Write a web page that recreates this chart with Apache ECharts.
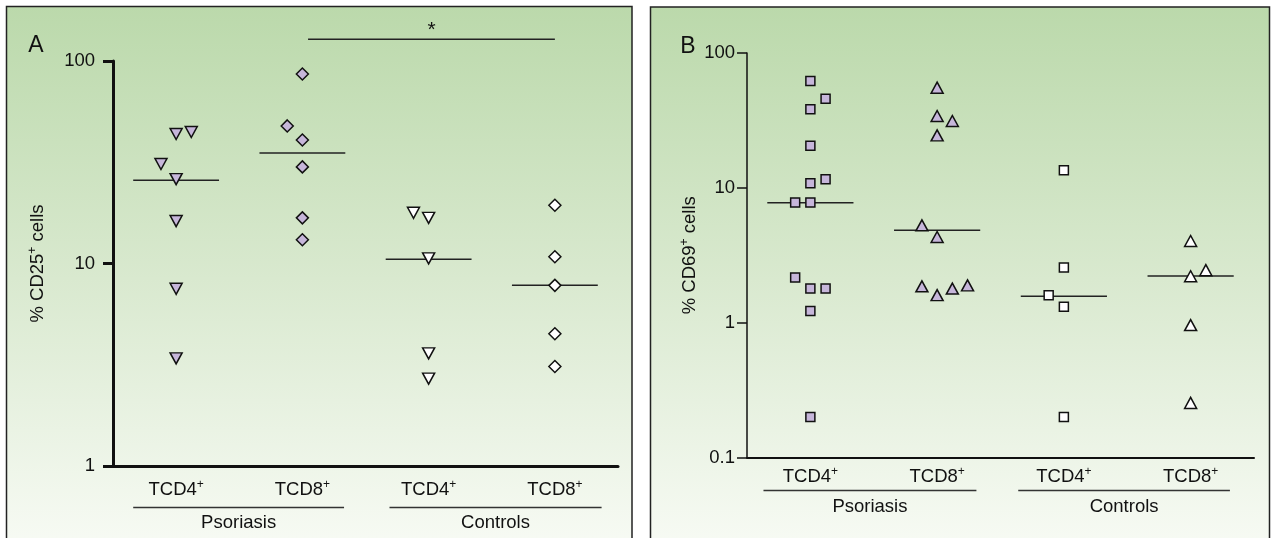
<!DOCTYPE html>
<html>
<head>
<meta charset="utf-8">
<script src="https://cdn.jsdelivr.net/npm/echarts@6/dist/echarts.min.js"></script>
<style>
  html, body { margin: 0; padding: 0; background: #fff; }
  #chart { width: 1276px; height: 538px; }
</style>
</head>
<body>
<div id="chart"></div>
<script>
// categories and groups
const categories = ['TCD4', 'TCD8', 'TCD4', 'TCD8']
const groupNames = ['Psoriasis', 'Controls']
const groupSpans = [[0.66, 2.33], [2.69, 4.37]]
const groupSpansB = [[0.63, 2.31], [2.64, 4.31]]

// panel A: % CD25+ cells
const cd25PsoCd4 = [43.6, 44.6, 31.0, 26.1, 16.2, 7.5, 3.4]
const cd25PsoCd4Jit = [0, 0.12, -0.12, 0, 0, 0, 0]
const cd25PsoCd8 = [86.3, 47.8, 40.7, 30.0, 16.8, 13.1]
const cd25PsoCd8Jit = [0, -0.12, 0, 0, 0, 0]
const cd25ConCd4 = [17.8, 16.8, 10.6, 3.6, 2.7]
const cd25ConCd4Jit = [-0.12, 0, 0, 0, 0]
const cd25ConCd8 = [19.4, 10.8, 7.8, 4.5, 3.1]
const cd25ConCd8Jit = [0, 0, 0, 0, 0]
const cd25Medians = [25.8, 35.1, 10.5, 7.8]
const cd25Signif = [2.045, 4.0, 128]

// panel B: % CD69+ cells
const cd69PsoCd4 = [61.9, 45.8, 38.2, 20.5, 10.8, 11.6, 7.77, 7.77, 2.16, 1.79, 1.79, 1.22, 0.2]
const cd69PsoCd4Jit = [0, 0.12, 0, 0, 0, 0.12, -0.12, 0, -0.12, 0, 0.12, 0, 0]
const cd69PsoCd8 = [55.3, 34.1, 31.3, 24.5, 5.27, 4.32, 1.86, 1.6, 1.79, 1.89]
const cd69PsoCd8Jit = [0, 0, 0.12, 0, -0.12, 0, -0.12, 0, 0.12, 0.24]
const cd69ConCd4 = [13.5, 2.56, 1.6, 1.31, 0.2]
const cd69ConCd4Jit = [0, 0, -0.12, 0, 0]
const cd69ConCd8 = [4.03, 2.45, 2.21, 0.96, 0.254]
const cd69ConCd8Jit = [0, 0.12, 0, 0, 0]
const cd69Medians = [7.74, 4.84, 1.57, 2.22]

const FONT = 'Liberation Sans, Arial, sans-serif'
const LILAC = '#c6b6da'
const INK = '#111'
const FS = 18.5

const chart = echarts.init(document.getElementById('chart'))

const supRich = {
  n: { fontSize: FS, lineHeight: 22, color: INK, fontFamily: FONT },
  s: { fontSize: 12, lineHeight: 12, verticalAlign: 'top', color: INK, fontFamily: FONT }
}

const panelBg = {
  type: 'linear', x: 0, y: 0, x2: 0, y2: 1,
  colorStops: [
    { offset: 0, color: '#bbd9ab' },
    { offset: 0.5, color: '#d9e9cf' },
    { offset: 1, color: '#f8fbf5' }
  ]
}

const catAxis = (gridIndex, width, margin) => ({
  type: 'category',
  gridIndex: gridIndex,
  data: categories,
  boundaryGap: true,
  axisLine: { lineStyle: { color: INK, width: width } },
  axisTick: { show: false },
  axisLabel: {
    margin: margin,
    formatter: v => `{n|${v}}{s|+}`,
    rich: supRich
  }
})

const posAxis = gridIndex => ({
  type: 'value', gridIndex: gridIndex, min: 0.5, max: 4.5, show: false
})

const logAxis = (gridIndex, min, width, margin, label, gap) => ({
  type: 'log',
  logBase: 10,
  gridIndex: gridIndex,
  min: min,
  max: 100,
  name: `{n|% ${label}}{s|+}{n| cells}`,
  nameLocation: 'middle',
  nameRotate: 90,
  nameGap: gap,
  nameTextStyle: { rich: supRich },
  axisLine: { show: true, lineStyle: { color: INK, width: width } },
  axisTick: { show: true, length: 10, lineStyle: { color: INK, width: width } },
  minorTick: { show: false },
  splitLine: { show: false },
  axisLabel: { margin: margin, fontSize: FS, color: INK, fontFamily: FONT }
})

const dots = (xi, yi, values, jit, pos, symbol, rotate, fill, size, border) => ({
  type: 'scatter',
  xAxisIndex: xi,
  yAxisIndex: yi,
  symbol: symbol,
  symbolRotate: rotate,
  symbolSize: size,
  itemStyle: { color: fill, borderColor: INK, borderWidth: border, opacity: 1 },
  data: values.map((v, i) => [pos + jit[i], v]),
  z: 3
})

const medianLines = (xi, yi, medians) => ({
  type: 'custom',
  xAxisIndex: xi,
  yAxisIndex: yi,
  data: medians.map((m, i) => [i + 1, m]),
  renderItem: (params, api) => {
    const a = api.coord([api.value(0) - 0.34, api.value(1)])
    const b = api.coord([api.value(0) + 0.34, api.value(1)])
    return {
      type: 'line',
      shape: { x1: a[0], y1: a[1], x2: b[0], y2: b[1] },
      style: { stroke: '#222', lineWidth: 1.5 }
    }
  },
  z: 1
})

const groupLabels = (xi, yi, spans, lineOff, textOff) => ({
  type: 'custom',
  xAxisIndex: xi,
  yAxisIndex: yi,
  clip: false,
  data: spans.map(s => [s[0], s[1]]),
  renderItem: (params, api) => {
    const bottom = params.coordSys.y + params.coordSys.height
    const x0 = api.coord([api.value(0), 1])[0]
    const x1 = api.coord([api.value(1), 1])[0]
    return {
      type: 'group',
      children: [
        {
          type: 'line',
          shape: { x1: x0, y1: bottom + lineOff, x2: x1, y2: bottom + lineOff },
          style: { stroke: '#333', lineWidth: 1.5 }
        },
        {
          type: 'text',
          x: (x0 + x1) / 2,
          y: bottom + textOff,
          style: {
            text: groupNames[params.dataIndex],
            fontSize: FS, fontFamily: FONT, fill: INK,
            align: 'center', verticalAlign: 'middle'
          }
        }
      ]
    }
  }
})

const option = {
  animation: false,
  backgroundColor: '#fff',
  textStyle: { fontFamily: FONT },
  graphic: [
    { type: 'rect', z: -10, shape: { x: 6.5, y: 6.5, width: 625.5, height: 545 },
      style: { fill: panelBg, stroke: '#222', lineWidth: 1.5 } },
    { type: 'rect', z: -10, shape: { x: 650.5, y: 7, width: 619, height: 545 },
      style: { fill: panelBg, stroke: '#222', lineWidth: 1.5 } },
    { type: 'text', x: 36, y: 46, z: 10,
      style: { text: 'A', fontSize: 23, fontFamily: FONT, fill: INK, align: 'center', verticalAlign: 'middle' } },
    { type: 'text', x: 688, y: 47, z: 10,
      style: { text: 'B', fontSize: 23, fontFamily: FONT, fill: INK, align: 'center', verticalAlign: 'middle' } }
  ],
  grid: [
    { left: 113, top: 61, width: 505, height: 405 },
    { left: 747, top: 53, width: 507, height: 404.5 }
  ],
  xAxis: [
    catAxis(0, 3, 13),
    posAxis(0),
    catAxis(1, 2, 8),
    posAxis(1)
  ],
  yAxis: [
    logAxis(0, 1, 3, 18, 'CD25', 64),
    logAxis(1, 0.1, 1.5, 12, 'CD69', 46)
  ],
  series: [
    medianLines(1, 0, cd25Medians),
    dots(1, 0, cd25PsoCd4, cd25PsoCd4Jit, 1, 'triangle', 180, LILAC, [12, 11], 1.5),
    dots(1, 0, cd25PsoCd8, cd25PsoCd8Jit, 2, 'diamond', 0, LILAC, [12, 12], 1.5),
    dots(1, 0, cd25ConCd4, cd25ConCd4Jit, 3, 'triangle', 180, '#fff', [12, 11], 1.5),
    dots(1, 0, cd25ConCd8, cd25ConCd8Jit, 4, 'diamond', 0, '#fff', [12, 12], 1.5),
    groupLabels(1, 0, groupSpans, 41.5, 57),
    {
      type: 'custom',
      xAxisIndex: 1,
      yAxisIndex: 0,
      clip: false,
      data: [cd25Signif],
      renderItem: (params, api) => {
        const a = api.coord([api.value(0), api.value(2)])
        const b = api.coord([api.value(1), api.value(2)])
        return {
          type: 'group',
          children: [
            { type: 'line', shape: { x1: a[0], y1: a[1], x2: b[0], y2: b[1] },
              style: { stroke: '#222', lineWidth: 1.5 } },
            { type: 'text', x: (a[0] + b[0]) / 2, y: a[1] - 9,
              style: { text: '*', fontSize: 21, fontFamily: FONT, fill: INK, align: 'center', verticalAlign: 'middle' } }
          ]
        }
      }
    },
    medianLines(3, 1, cd69Medians),
    dots(3, 1, cd69PsoCd4, cd69PsoCd4Jit, 1, 'rect', 0, LILAC, 9, 1.5),
    dots(3, 1, cd69PsoCd8, cd69PsoCd8Jit, 2, 'triangle', 0, LILAC, [12, 11], 1.5),
    dots(3, 1, cd69ConCd4, cd69ConCd4Jit, 3, 'rect', 0, '#fff', 9, 1.5),
    dots(3, 1, cd69ConCd8, cd69ConCd8Jit, 4, 'triangle', 0, '#fff', [12, 11], 1.5),
    groupLabels(3, 1, groupSpansB, 33, 49.5)
  ]
}

chart.setOption(option)
window.addEventListener('resize', () => chart.resize())
</script>
</body>
</html>
